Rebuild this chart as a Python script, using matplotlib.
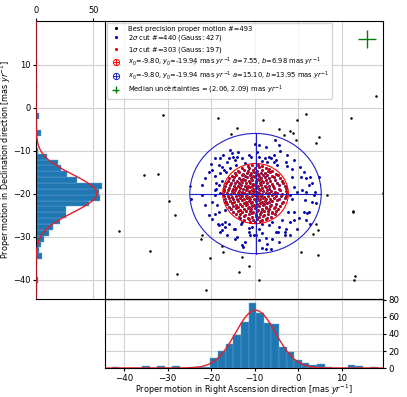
import matplotlib.pyplot as plt
import numpy as np
from matplotlib.patches import Ellipse
from matplotlib.lines import Line2D
from matplotlib.legend_handler import HandlerTuple

# fit parameters
x0, y0 = -9.80, -19.94
a1, b1 = 7.55, 6.98
a2, b2 = 15.10, 13.95
unc = (2.06, 2.09)
cross_pos = (15.8, 15.9)
n_total, n_2s, n_2s_g, n_1s, n_1s_g = 493, 440, 427, 303, 197

# gaussian fits of the marginal histograms (amplitude, mean, sigma)
ra_gauss = (68.0, -9.8, 4.6)
dec_gauss = (53.0, -19.94, 4.4)

# RA histogram (bin width 1.75)
ra_start, ra_bw = -42.9, 1.75
ra_counts = [1, 0, 0, 0, 2, 0, 2, 0, 2, 0, 1, 1, 1, 12, 20, 28, 39, 54, 76, 65,
             53, 52, 25, 19, 10, 6, 4, 5, 1, 0, 0, 3, 2, 0, 1]

# Dec histogram (bin width 1.36)
dec_start, dec_bw = -43.33, 1.36
dec_counts = [1, 1, 2, 1, 0, 1, 5, 3, 4, 7, 11, 15, 21, 26, 26, 46, 56, 55, 58, 36,
              27, 22, 19, 10, 2, 1, 1, 4, 1, 1, 3, 0, 0, 0, 0, 1, 0, 0, 0, 1]

# stars outside the 2 sigma cut
pts_out = [(-31.0, -1.7), (-18.5, -2.4), (-8.1, -2.8), (-0.2, -2.9), (1.9, -1.5),
           (12.1, -2.3), (-14.1, -4.8), (-15.4, -6.1), (-4.5, -5.0), (-1.9, -5.4),
           (-1.2, -6.0), (-3.2, -6.4), (4.8, -6.7), (4.2, -8.1), (-0.6, -7.6),
           (-35.5, -15.7), (-32.2, -15.3), (-24.8, -18.2), (6.7, -20.2), (19.4, -19.7),
           (-29.6, -21.6), (-28.3, -25.0), (12.5, -24.0), (12.7, -24.2), (-41.2, -28.7),
           (-22.2, -29.6), (-22.3, -30.6), (4.0, -27.1), (4.5, -28.3), (3.4, -29.3),
           (-34.1, -33.3), (-17.5, -32.1), (-17.2, -33.6), (-20.2, -34.9), (-12.8, -34.7),
           (-11.4, -36.7), (-13.7, -38.2), (0.6, -33.5), (4.5, -34.1), (-27.9, -38.5),
           (-9.1, -39.9), (-21.2, -42.4), (13.1, -39.1), (12.9, -40.1), (17.8, 2.8),
           (-30.0, 5.0), (-24.0, 10.3)]

# stars inside the 2 sigma cut but outside 1 sigma
pts_2s = [(-10.0, -8.5), (-8.9, -8.7), (-7.4, -9.1), (-5.4, -7.4), (-4.1, -10.1),
          (-5.6, -11.0), (-6.8, -11.5), (-6.3, -11.8), (-7.7, -11.8), (-8.3, -12.3),
          (-7.2, -12.6), (-5.6, -12.6), (-5.1, -12.2), (-4.9, -13.2), (-10.8, -11.4),
          (-12.2, -12.9), (-13.8, -10.4), (-15.6, -9.8), (-15.0, -11.5), (-14.5, -12.2),
          (-16.0, -11.6), (-17.2, -10.9), (-17.9, -11.8), (-19.1, -11.8), (-20.1, -13.1),
          (-17.5, -13.7), (-17.0, -14.4), (-16.6, -15.0), (-15.6, -14.0), (-14.3, -13.3),
          (-2.9, -12.6), (-2.5, -13.6), (-1.4, -14.3), (0.4, -13.7), (-1.4, -16.0),
          (0.7, -16.2), (1.7, -16.4), (4.8, -16.0), (-1.0, -18.4), (-0.2, -19.5),
          (0.9, -19.1), (2.5, -18.0), (-1.8, -20.3), (-1.4, -21.1), (4.2, -22.2),
          (2.5, -24.2), (1.3, -24.2), (0.2, -25.7), (-1.0, -26.1), (-1.8, -26.5),
          (-2.9, -28.1), (-4.5, -27.7), (-6.0, -26.5), (-5.1, -28.8), (-6.8, -27.3),
          (-9.1, -28.1), (-8.3, -26.9), (-10.6, -27.7), (-11.4, -28.8), (-11.0, -29.5),
          (-10.2, -29.6), (-12.9, -31.9), (-12.6, -32.3), (-14.1, -30.0), (-14.8, -28.1),
          (-16.0, -26.9), (-16.8, -26.5), (-17.5, -26.9), (-18.3, -27.3), (-17.9, -28.8),
          (-19.8, -25.9), (-19.1, -24.6), (-18.7, -22.6), (-16.8, -23.8), (-16.9, -21.9),
          (-17.9, -19.9), (-19.1, -19.1), (-18.9, -17.4), (-18.3, -18.0), (-17.5, -17.1),
          (-19.2, -15.8), (-17.9, -15.1), (-24.6, -21.1), (-18.8, -18.8), (-18.5, -27.1),
          (-16.8, -27.8), (-14.5, -28.2), (-13.2, -26.9), (-13.4, -25.6), (-12.9, -26.5),
          (-11.2, -27.9), (-9.7, -29.6), (-8.3, -29.1), (-7.5, -30.2), (-7.2, -31.6),
          (-6.2, -32.7), (-4.7, -28.8), (-3.7, -26.1), (-2.3, -24.2), (-1.0, -24.2),
          (2.1, -24.4), (-3.1, -28.8), (-3.1, -29.6), (-4.5, -31.2), (-8.3, -32.6),
          (-7.3, -32.9), (1.7, -19.5), (3.6, -20.3), (-19.1, -20.3), (-19.7, -21.9),
          (-18.2, -24.2), (-15.2, -10.6), (-12.9, -11.8), (-11.4, -11.0), (-9.5, -10.2),
          (-9.1, -11.4), (-4.5, -8.7), (-2.5, -11.0), (-1.0, -12.2), (1.3, -14.9),
          (2.8, -16.0), (3.2, -17.6), (3.8, -19.5), (1.5, -21.5), (3.2, -21.9),
          (1.7, -26.1), (2.8, -26.9), (-0.2, -28.1), (-1.8, -29.6), (-6.0, -30.4),
          (-9.1, -30.8), (-12.2, -31.2), (-14.5, -30.4), (-16.4, -29.6), (-17.5, -28.4),
          (-20.6, -25.0), (-21.4, -22.6), (-22.2, -20.3), (-22.2, -18.0), (-21.4, -16.4),
          (-20.6, -14.9), (-19.8, -14.5), (-18.3, -13.3), (-16.4, -12.6), (-14.1, -11.4)]

# stars inside the 1 sigma cut
pts_1s = [(-10.5, -13.4), (-9.2, -13.2), (-8.4, -13.5), (-11.6, -13.6),
          (-12.8, -14.0), (-11.2, -13.9), (-9.9, -14.1), (-8.9, -13.8), (-7.4, -14.0), (-6.6, -14.2),
          (-13.9, -14.6), (-12.4, -14.5), (-11.5, -14.7), (-10.3, -14.4), (-9.5, -14.6), (-8.2, -14.5),
          (-7.0, -14.8), (-5.9, -14.6),
          (-14.6, -15.2), (-13.5, -15.0), (-12.7, -15.3), (-11.8, -15.1), (-10.9, -15.2), (-10.1, -15.0),
          (-9.3, -15.3), (-8.6, -15.1), (-7.7, -15.2), (-6.5, -15.0), (-5.2, -15.3),
          (-15.3, -15.8), (-14.2, -15.6), (-13.0, -15.7), (-12.2, -15.9), (-11.1, -15.6), (-10.4, -15.8),
          (-9.7, -15.6), (-8.9, -15.9), (-8.0, -15.7), (-7.2, -15.6), (-6.1, -15.8), (-4.6, -15.7),
          (-15.8, -16.4), (-14.7, -16.2), (-13.6, -16.3), (-12.6, -16.5), (-11.7, -16.2), (-10.8, -16.4),
          (-10.0, -16.2), (-9.2, -16.5), (-8.5, -16.3), (-7.6, -16.1), (-6.8, -16.4), (-5.5, -16.2),
          (-4.1, -16.4),
          (-16.2, -17.0), (-15.0, -16.8), (-14.1, -17.1), (-13.2, -16.9), (-12.3, -16.8), (-11.4, -17.1),
          (-10.6, -16.9), (-9.8, -17.0), (-9.0, -16.8), (-8.2, -17.1), (-7.3, -16.9), (-6.4, -17.0),
          (-5.3, -16.8), (-3.7, -17.0),
          (-16.5, -17.6), (-15.4, -17.4), (-14.5, -17.6), (-13.6, -17.5), (-12.8, -17.3), (-11.9, -17.6),
          (-11.0, -17.4), (-10.3, -17.7), (-9.6, -17.4), (-8.8, -17.6), (-8.0, -17.3), (-7.1, -17.5),
          (-6.1, -17.7), (-4.9, -17.4), (-3.4, -17.6),
          (-16.8, -18.2), (-15.7, -18.0), (-14.8, -18.3), (-13.9, -18.1), (-13.1, -18.0), (-12.3, -18.3),
          (-11.5, -18.1), (-10.7, -18.2), (-10.0, -17.9), (-9.3, -18.2), (-8.5, -18.0), (-7.7, -18.3),
          (-6.8, -18.1), (-5.8, -18.2), (-4.5, -18.0), (-3.1, -18.2),
          (-17.0, -18.8), (-16.0, -18.6), (-15.0, -18.9), (-14.2, -18.7), (-13.4, -18.6), (-12.6, -18.9),
          (-11.8, -18.7), (-11.1, -18.5), (-10.4, -18.8), (-9.7, -18.6), (-9.0, -18.9), (-8.3, -18.7),
          (-7.5, -18.5), (-6.6, -18.8), (-5.6, -18.6), (-4.3, -18.9), (-2.9, -18.7),
          (-17.1, -19.4), (-16.2, -19.2), (-15.3, -19.4), (-14.5, -19.1), (-13.7, -19.3), (-12.9, -19.5),
          (-12.1, -19.2), (-11.4, -19.4), (-10.7, -19.1), (-10.1, -19.3), (-9.4, -19.5), (-8.7, -19.2),
          (-8.0, -19.4), (-7.2, -19.1), (-6.3, -19.3), (-5.3, -19.5), (-4.1, -19.2), (-2.7, -19.4),
          (-17.2, -20.0), (-16.3, -19.8), (-15.5, -20.1), (-14.7, -19.9), (-13.9, -19.7), (-13.1, -20.0),
          (-12.4, -19.8), (-11.7, -20.1), (-11.0, -19.9), (-10.3, -19.7), (-9.6, -20.0), (-8.9, -19.8),
          (-8.2, -20.1), (-7.5, -19.9), (-6.7, -19.7), (-5.8, -20.0), (-4.8, -19.8), (-3.6, -20.1),
          (-2.5, -19.9),
          (-17.0, -20.6), (-16.1, -20.4), (-15.2, -20.7), (-14.4, -20.5), (-13.6, -20.3), (-12.8, -20.6),
          (-12.0, -20.4), (-11.3, -20.7), (-10.6, -20.5), (-9.9, -20.3), (-9.2, -20.6), (-8.5, -20.4),
          (-7.8, -20.7), (-7.0, -20.5), (-6.1, -20.3), (-5.1, -20.6), (-3.9, -20.4), (-2.7, -20.6),
          (-16.9, -21.2), (-15.9, -21.0), (-15.0, -21.3), (-14.1, -21.1), (-13.3, -20.9), (-12.5, -21.2),
          (-11.7, -21.0), (-11.0, -21.3), (-10.2, -21.1), (-9.5, -20.9), (-8.8, -21.2), (-8.1, -21.0),
          (-7.3, -21.3), (-6.5, -21.1), (-5.5, -20.9), (-4.4, -21.2), (-3.0, -21.0),
          (-16.7, -21.8), (-15.6, -21.6), (-14.7, -21.9), (-13.8, -21.7), (-12.9, -21.5), (-12.1, -21.8),
          (-11.3, -21.6), (-10.5, -21.9), (-9.8, -21.7), (-9.1, -21.5), (-8.4, -21.8), (-7.6, -21.6),
          (-6.8, -21.9), (-5.9, -21.7), (-4.8, -21.5), (-3.4, -21.8),
          (-16.4, -22.4), (-15.3, -22.2), (-14.3, -22.5), (-13.4, -22.3), (-12.5, -22.1), (-11.7, -22.4),
          (-10.9, -22.2), (-10.1, -22.5), (-9.4, -22.3), (-8.7, -22.1), (-7.9, -22.4), (-7.1, -22.2),
          (-6.2, -22.5), (-5.1, -22.3), (-3.8, -22.1),
          (-16.0, -23.0), (-14.9, -22.8), (-13.9, -23.1), (-13.0, -22.9), (-12.1, -22.7), (-11.3, -23.0),
          (-10.5, -22.8), (-9.7, -23.1), (-8.9, -22.9), (-8.1, -22.7), (-7.3, -23.0), (-6.4, -22.8),
          (-5.4, -23.1), (-4.2, -22.9),
          (-15.5, -23.6), (-14.4, -23.4), (-13.4, -23.7), (-12.5, -23.5), (-11.6, -23.3), (-10.8, -23.6),
          (-10.0, -23.4), (-9.2, -23.7), (-8.4, -23.5), (-7.5, -23.3), (-6.6, -23.6), (-5.6, -23.4),
          (-4.6, -23.6),
          (-15.0, -24.2), (-13.9, -24.0), (-12.9, -24.3), (-12.0, -24.1), (-11.1, -23.9), (-10.3, -24.2),
          (-9.5, -24.0), (-8.6, -24.3), (-7.8, -24.1), (-6.9, -23.9), (-5.9, -24.2), (-5.0, -24.0),
          (-14.3, -24.8), (-13.3, -24.6), (-12.3, -24.9), (-11.4, -24.7), (-10.5, -24.5), (-9.7, -24.8),
          (-8.8, -24.6), (-7.9, -24.9), (-7.0, -24.7), (-6.0, -24.5), (-5.3, -24.8),
          (-13.5, -25.4), (-12.5, -25.2), (-11.6, -25.5), (-10.7, -25.3), (-9.8, -25.1), (-8.9, -25.4),
          (-8.0, -25.2), (-7.1, -25.5), (-6.2, -25.3),
          (-12.4, -26.0), (-11.3, -25.8), (-10.3, -26.1), (-9.4, -25.9), (-8.4, -26.0), (-7.4, -25.8),
          (-11.0, -26.5), (-9.9, -26.6), (-8.7, -26.4)]

xlim = (-44.4, 19.5)
ylim = (-44.4, 20.1)
blue = '#0000d0'
eblue = '#2020c8'
red = '#e00000'

fig = plt.figure(figsize=(4.07, 3.97), dpi=100)
ax = fig.add_axes([0.258, 0.247, 0.683, 0.700])
axl = fig.add_axes([0.0885, 0.247, 0.1695, 0.700])
axb = fig.add_axes([0.258, 0.073, 0.683, 0.174])

all_pts = np.array(pts_out + pts_2s + pts_1s)
in2 = np.array(pts_2s + pts_1s)
in1 = np.array(pts_1s)

ax.scatter(all_pts[:, 0], all_pts[:, 1], s=3.3, c='black', lw=0, zorder=3)
ax.scatter(in2[:, 0], in2[:, 1], s=3.3, c=blue, lw=0, zorder=4)
ax.scatter(in1[:, 0], in1[:, 1], s=3.3, c=red, lw=0, zorder=5)

ax.add_patch(Ellipse((x0, y0), 2 * a1, 2 * b1, fill=False, ec='red', lw=0.8, zorder=6))
ax.add_patch(Ellipse((x0, y0), 2 * a2, 2 * b2, fill=False, ec=eblue, lw=0.8, zorder=6))
ax.plot([x0 - a2, x0 + a2], [y0, y0], color=eblue, lw=0.8, zorder=6)
ax.plot([x0, x0], [y0 - b2, y0 + b2], color=eblue, lw=0.8, zorder=6)

eb = ax.errorbar(cross_pos[0], cross_pos[1], xerr=unc[0], yerr=unc[1], color='green',
                 lw=1, fmt='none', zorder=6)

ax.set_xlim(xlim)
ax.set_ylim(ylim)
ax.set_xticks(np.arange(-40, 20, 10))
ax.set_yticks(np.arange(-40, 20, 10))
ax.tick_params(length=0, labelleft=False, labelbottom=False)
ax.grid(color='0.82', lw=0.8, zorder=0)
ax.set_axisbelow(True)

def oplus(c):
    return (Line2D([], [], ls='', marker='o', mfc='none', mec=c, ms=4.5, mew=0.7),
            Line2D([], [], ls='', marker='+', color=c, ms=4.5, mew=0.7))

handles = [Line2D([], [], ls='', marker='.', color='black', ms=2.5),
           Line2D([], [], ls='', marker='.', color=blue, ms=2.5),
           Line2D([], [], ls='', marker='.', color=red, ms=2.5),
           oplus('red'), oplus(eblue), eb]
labels = ['Best precision proper motion #=%d' % n_total,
          r'2$\sigma$ cut #=%d (Gauss: %d)' % (n_2s, n_2s_g),
          r'1$\sigma$ cut #=%d (Gauss: %d)' % (n_1s, n_1s_g),
          r'$x_0$=%.2f, $y_0$=%.2f mas $yr^{-1}$ $a$=%.2f, $b$=%.2f mas $yr^{-1}$' % (x0, y0, a1, b1),
          r'$x_0$=%.2f, $y_0$=%.2f mas $yr^{-1}$ $a$=%.2f, $b$=%.2f mas $yr^{-1}$' % (x0, y0, a2, b2),
          r'Median uncertainties = (%.2f, %.2f) mas $yr^{-1}$' % unc]
ax.legend(handles, labels, loc='upper left', fontsize=4.9, borderaxespad=0.3,
          handletextpad=0.9, handlelength=1.8, labelspacing=0.2, framealpha=0.8,
          handler_map={tuple: HandlerTuple(ndivide=1, pad=0)})

# RA histogram
ra_edges = ra_start + ra_bw * np.arange(len(ra_counts) + 1)
axb.bar(ra_edges[:-1], ra_counts, width=ra_bw, align='edge', color='#1f77b4',
        edgecolor='#6fa3cf', lw=0.3, zorder=2)
xx = np.linspace(xlim[0], xlim[1], 300)
A, m, s = ra_gauss
axb.plot(xx, A * np.exp(-(xx - m) ** 2 / (2 * s ** 2)), color='#e0202a', lw=1, zorder=3)
axb.set_xlim(xlim)
axb.set_ylim(0, 81.2)
axb.set_xticks(np.arange(-40, 20, 10))
axb.set_yticks([0, 20, 40, 60, 80])
axb.yaxis.tick_right()
axb.grid(color='0.82', lw=0.8, zorder=0)
axb.set_axisbelow(True)
axb.tick_params(labelsize=6.2, pad=1.5, length=2.5)
axb.set_xlabel(r'Proper motion in Right Ascension direction [mas $yr^{-1}$]', fontsize=5.8)
axb.xaxis.set_label_coords(0.5, -0.215)

# Dec histogram
dec_edges = dec_start + dec_bw * np.arange(len(dec_counts) + 1)
axl.barh(dec_edges[:-1], dec_counts, height=dec_bw, align='edge', color='#1f77b4',
         edgecolor='#6fa3cf', lw=0.3, zorder=2)
yy = np.linspace(ylim[0], ylim[1], 300)
A, m, s = dec_gauss
axl.plot(A * np.exp(-(yy - m) ** 2 / (2 * s ** 2)), yy, color='#e0202a', lw=1, zorder=3)
axl.set_ylim(ylim)
axl.set_xlim(0, 60.2)
axl.set_xticks([0, 50])
axl.set_yticks(np.arange(-40, 20, 10))
axl.xaxis.tick_top()
axl.grid(color='0.82', lw=0.8, zorder=0)
axl.set_axisbelow(True)
axl.tick_params(labelsize=6.0, pad=1.5, length=2.5)
axl.set_ylabel(r'Proper motion in Declination direction [mas $yr^{-1}$]', fontsize=5.8)
axl.yaxis.set_label_coords(-0.335, 0.5)

fig.savefig('out.png', dpi=100)
